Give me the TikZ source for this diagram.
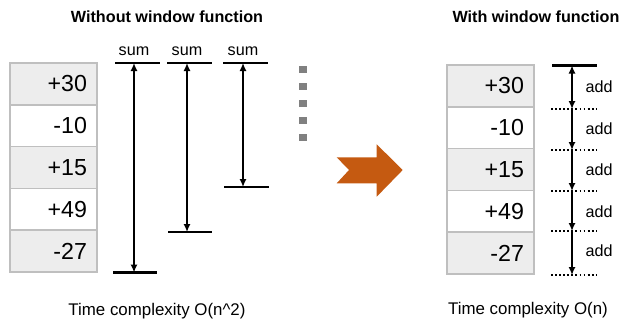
\documentclass[tikz,border=0pt]{standalone}
\usepackage{fontspec}
\setmainfont{Liberation Sans}
\usetikzlibrary{positioning,arrows.meta}
\definecolor{wfcinza}{HTML}{BFBFBF}
\definecolor{wfcinzaclaro}{HTML}{EDEDED}
\definecolor{wfponto}{HTML}{808080}
\definecolor{wflaranja}{HTML}{C55A11}
\tikzset{
  wfcelula/.style={draw=wfcinza, line width=1pt, minimum width=2.175cm, minimum height=1.045cm,
                   text width=1.675cm, inner xsep=0.25cm, align=right, font=\fontsize{16.5}{18}\selectfont},
  wfcinzacel/.style={wfcelula, fill=wfcinzaclaro},
  wfbrancacel/.style={wfcelula, fill=white},
  wfbarra/.style={line width=1.8pt},
  wfseta/.style={{Latex[length=2mm,width=1.8mm]}-{Latex[length=2mm,width=1.8mm]}, line width=1.5pt},
  wfsetabaixo/.style={-{Latex[length=2mm,width=1.8mm]}, line width=1.5pt},
  wfpontilhado/.style={line width=1.3pt, dash pattern=on 1.3pt off 1.6pt},
  wfrotulo/.style={font=\fontsize{11.5}{13}\selectfont},
  wftitulo/.style={font=\fontsize{11.5}{13}\selectfont\bfseries},
  wfcomplex/.style={font=\fontsize{12}{14}\selectfont},
}

\begin{document}
\begin{tikzpicture}[x=0.025cm, y=-0.025cm]
  \useasboundingbox (0,0) rectangle (637,330);
  % tabela sem janela
  \node[wfcinzacel] (l1) at (53.5,83.9) {+30};
  \node[wfbrancacel] (l2) at (53.5,125.7) {-10};
  \node[wfcinzacel] (l3) at (53.5,167.5) {+15};
  \node[wfbrancacel] (l4) at (53.5,209.3) {+49};
  \node[wfcinzacel] (l5) at (53.5,251.1) {-27};
  \node[wftitulo] (tsem) at (167,17) {Without window function};
  % somas
  \coordinate (s1t) at (134,63);
  \coordinate (s1b) at (134,272.5);
  \coordinate (s2t) at (187,63);
  \coordinate (s2b) at (187,232);
  \coordinate (s3t) at (243,63);
  \coordinate (s3b) at (243,187);
  \draw[wfbarra] (s1t) ++(-19,0) -- ++(45,0);
  \draw[wfbarra] (s1b) ++(-21,0) -- ++(44,0);
  \draw[wfbarra] (s2t) ++(-20,0) -- ++(45,0);
  \draw[wfbarra] (s2b) ++(-19,0) -- ++(44,0);
  \draw[wfbarra] (s3t) ++(-20,0) -- ++(45,0);
  \draw[wfbarra] (s3b) ++(-19,0) -- ++(45,0);
  \draw[wfseta] (s1t) -- (s1b);
  \draw[wfseta] (s2t) -- (s2b);
  \draw[wfseta] (s3t) -- (s3b);
  \node[wfrotulo, above=2pt of s1t] (sum1) {sum};
  \node[wfrotulo, above=2pt of s2t] (sum2) {sum};
  \node[wfrotulo, above=2pt of s3t] (sum3) {sum};
  \foreach \i/\y in {1/69,2/86,3/103,4/120,5/137}
    \node[fill=wfponto, minimum width=0.2cm, minimum height=0.175cm, inner sep=0pt] (d\i) at (302.5,\y) {};
  % seta central
  \fill[wflaranja] (336.7,157.3) -- (376.7,157.3) -- (376.7,144.3) -- (402.7,170)
    -- (376.7,196.7) -- (376.7,183.3) -- (336.7,183.3) -- (349,170) -- cycle;
  % tabela com janela
  \node[wfcinzacel] (r1) at (490.5,85.9) {+30};
  \node[wfbrancacel] (r2) at (490.5,127.7) {-10};
  \node[wfcinzacel] (r3) at (490.5,169.5) {+15};
  \node[wfbrancacel] (r4) at (490.5,211.3) {+49};
  \node[wfcinzacel] (r5) at (490.5,253.1) {-27};
  \node[wftitulo] (tcom) at (536,17) {With window function};
  \coordinate (a0) at (572,65.5);
  \coordinate (a1) at (572,109);
  \coordinate (a2) at (572,150);
  \coordinate (a3) at (572,191);
  \coordinate (a4) at (572,231);
  \coordinate (a5) at (572,275);
  \draw[wfbarra] (a0) ++(-20,0) -- ++(45,0);
  \draw[wfpontilhado] (a1) ++(-21,0) -- ++(46,0);
  \draw[wfpontilhado] (a2) ++(-21,0) -- ++(46,0);
  \draw[wfpontilhado] (a3) ++(-21,0) -- ++(46,0);
  \draw[wfpontilhado] (a4) ++(-21,0) -- ++(46,0);
  \draw[wfpontilhado] (a5) ++(-21,0) -- ++(46,0);
  \draw[wfseta] (a0) -- (a1);
  \draw[wfsetabaixo] (a1) -- (a2);
  \draw[wfsetabaixo] (a2) -- (a3);
  \draw[wfsetabaixo] (a3) -- (a4);
  \draw[wfsetabaixo] (a4) -- (a5);
  \node[wfrotulo] (add1) at (599,87) {add};
  \node[wfrotulo] (add2) at (599,129) {add};
  \node[wfrotulo] (add3) at (599,170) {add};
  \node[wfrotulo] (add4) at (599,212) {add};
  \node[wfrotulo] (add5) at (599,251) {add};
  % complexidade
  \node[wfcomplex] (cn2) at (157,311) {Time complexity O(n\^{}2)};
  \node[wfcomplex] (cn) at (528,310) {Time complexity O(n)};
\end{tikzpicture}
\end{document}
